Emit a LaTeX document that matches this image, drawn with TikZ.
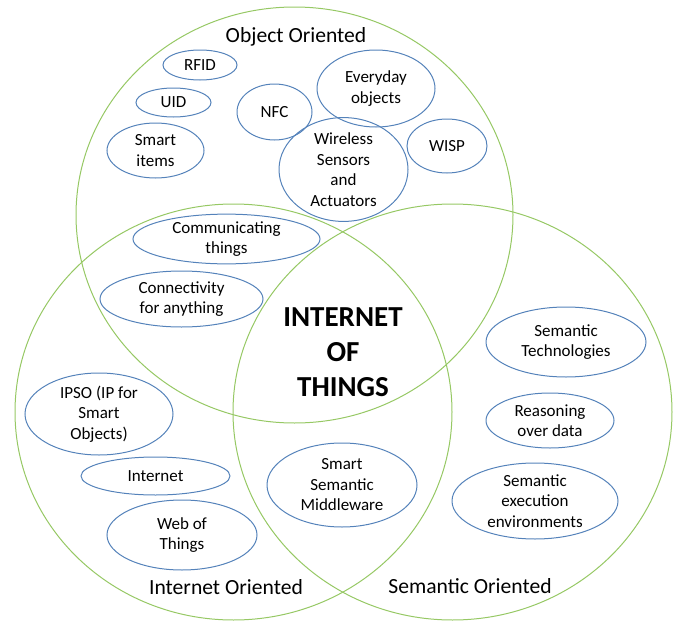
\documentclass[tikz,border=0pt]{standalone}
\usepackage{fontspec}
\setmainfont{Carlito}
\usetikzlibrary{shapes.geometric}
\definecolor{setgreen}{RGB}{150,200,100}
\definecolor{itemblue}{RGB}{84,130,186}

\begin{document}
\begin{tikzpicture}[x=1pt,y=-1pt,
  set node/.style={ellipse,draw=setgreen,line width=1pt,inner sep=0pt},
  item node/.style={ellipse,draw=itemblue,line width=1pt,inner sep=0pt,align=center,font=\fontsize{17}{20.5}\selectfont},
  title node/.style={anchor=base,font=\fontsize{21.6}{25}\selectfont}]
  \useasboundingbox (0,0) rectangle (678,621);

  % the three views
  \node[set node] (object) [minimum width=437, minimum height=416] at (294.5,215) {};
  \node[set node] (internet) [minimum width=437, minimum height=416] at (233.5,412) {};
  \node[set node] (semantic) [minimum width=439, minimum height=416] at (452.5,412) {};

  \node[title node] (objtitle) at (296,42) {Object Oriented};
  \node[title node] (inttitle) at (226,594) {Internet Oriented};
  \node[title node] (semtitle) at (470,593) {Semantic Oriented};

  % object oriented
  \node[item node] (rfid) [minimum width=74, minimum height=30] at (200,65) {RFID};
  \node[item node] (uid) [minimum width=75, minimum height=29] at (173.5,102.5) {UID};
  \node[item node] (smartitems) [minimum width=97, minimum height=55] at (155.5,150.5) {Smart\\items};
  \node[item node] (nfc) [minimum width=75, minimum height=56] at (274.5,112) {NFC};
  \node[item node] (everyday) [minimum width=118, minimum height=77] at (376,88.5) {Everyday\\objects};
  \node[item node] (wireless) [minimum width=129, minimum height=87] at (343.5,169.5) {Wireless\\Sensors\\and\\Actuators};
  \node[item node] (wisp) [minimum width=80, minimum height=54] at (447,146) {WISP};

  % object and internet
  \node[item node] (communicating) [minimum width=187, minimum height=48] at (226.5,239) {Communicating\\things};
  \node[item node] (connectivity) [minimum width=163, minimum height=56] at (181.5,299) {Connectivity\\for anything};

  % internet oriented
  \node[item node] (ipso) [minimum width=148, minimum height=82] at (99,414) {IPSO (IP for\\Smart\\Objects)};
  \node[item node] (internetitem) [minimum width=149, minimum height=38] at (155.5,476) {Internet};
  \node[item node] (webofthings) [minimum width=150, minimum height=70] at (182,535) {Web of\\Things};

  % internet and semantic
  \node[item node] (middleware) [minimum width=150, minimum height=84] at (342,485) {Smart\\Semantic\\Middleware};

  % semantic oriented
  \node[item node] (semtech) [minimum width=160, minimum height=70] at (566,342) {Semantic\\Technologies};
  \node[item node] (reasoning) [minimum width=128, minimum height=55] at (550,420.5) {Reasoning\\over data};
  \node[item node] (semexec) [minimum width=166, minimum height=76] at (535,501) {Semantic\\execution\\environments};

  % all three
  \node (iot) [align=center,font=\fontsize{29}{35}\selectfont\bfseries] at (343,352) {INTERNET\\OF\\THINGS};
\end{tikzpicture}
\end{document}
